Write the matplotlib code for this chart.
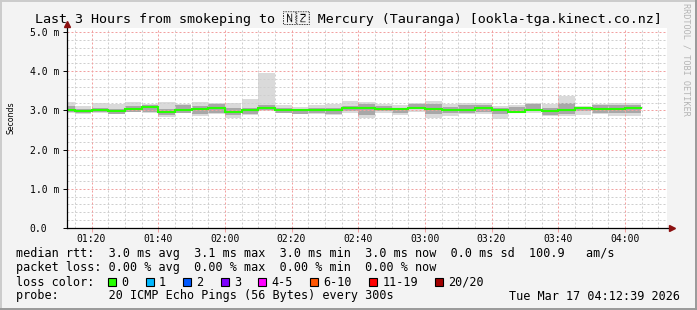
import numpy as np
import matplotlib.pyplot as plt
from matplotlib import font_manager, ft2font
from matplotlib.patches import Rectangle
from matplotlib.lines import Line2D

# smokeping graph, last 3 hours, 5 minute bins (first bin is partial)
t_start = 72 + 39 / 60.0     # 01:12:39 in minutes
t_end = t_start + 180.0      # 04:12:39
bin_edges = [t_start] + list(range(75, 250, 5))

median = [3.00, 2.98, 3.01, 2.99, 3.03, 3.08, 2.97, 3.01, 3.03, 3.06, 2.96, 3.00,
          3.07, 3.02, 3.00, 3.00, 3.02, 3.05, 3.05, 3.04, 3.04, 3.07, 3.04, 3.00,
          3.00, 3.05, 3.02, 2.97, 3.02, 2.98, 3.02, 3.05, 3.03, 3.03, 3.05]
smoke_hi = [3.22, 3.11, 3.20, 3.17, 3.21, 3.15, 3.21, 3.17, 3.21, 3.20, 3.20, 3.28,
            3.94, 3.13, 3.09, 3.13, 3.17, 3.24, 3.21, 3.15, 3.13, 3.20, 3.24, 3.15,
            3.20, 3.20, 3.11, 3.14, 3.20, 3.15, 3.36, 3.11, 3.15, 3.18, 3.20]
smoke_lo = [2.94, 2.91, 2.92, 2.91, 2.96, 2.94, 2.84, 2.92, 2.86, 2.90, 2.81, 2.87,
            2.98, 2.92, 2.90, 2.90, 2.87, 2.94, 2.81, 2.92, 2.87, 2.96, 2.81, 2.85,
            2.90, 2.90, 2.79, 2.92, 2.92, 2.85, 2.85, 2.87, 2.90, 2.85, 2.85]
core_hi = [3.11, 3.03, 3.07, 3.04, 3.11, 3.14, 3.03, 3.13, 3.11, 3.17, 3.07, 3.07,
           3.13, 3.07, 3.04, 3.07, 3.07, 3.11, 3.17, 3.11, 3.07, 3.15, 3.15, 3.09,
           3.13, 3.13, 3.07, 3.09, 3.15, 3.07, 3.18, 3.09, 3.13, 3.13, 3.13]
core_lo = [2.96, 2.94, 2.96, 2.91, 2.97, 2.96, 2.87, 2.94, 2.90, 2.94, 2.87, 2.90,
           3.01, 2.94, 2.91, 2.92, 2.90, 2.98, 2.87, 2.98, 2.94, 3.04, 2.90, 2.92,
           2.94, 2.96, 2.90, 2.94, 2.98, 2.87, 2.90, 2.98, 2.94, 2.92, 2.92]

x_ticks = [80, 100, 120, 140, 160, 180, 200, 220, 240]
x_labels = ['01:20', '01:40', '02:00', '02:20', '02:40', '03:00', '03:20', '03:40', '04:00']
y_ticks = [0, 1, 2, 3, 4, 5]
y_labels = ['0.0', '1.0 m', '2.0 m', '3.0 m', '4.0 m', '5.0 m']

loss_labels = ['0', '1', '2', '3', '4-5', '6-10', '11-19', '20/20']
loss_colors = ['#26ff00', '#00b8ff', '#0059ff', '#7e00ff', '#ff00ff', '#ff5500', '#ff0000', '#a10000']

title_left = 'Last 3 Hours from smokeping to '
title_flag = '\U0001F1F3\U0001F1FF'
title_right = ' Mercury (Tauranga) [ookla-tga.kinect.co.nz]'
legend_rows = [
    'median rtt:  3.0 ms avg  3.1 ms max  3.0 ms min  3.0 ms now  0.0 ms sd  100.9   am/s',
    'packet loss: 0.00 % avg  0.00 % max  0.00 % min  0.00 % now',
    'loss color:',
    'probe:       20 ICMP Echo Pings (56 Bytes) every 300s',
]
stamp = 'Tue Mar 17 04:12:39 2026'

mono = 'DejaVu Sans Mono'
W, H = 697, 310


def font_with(cp):
    # first installed family that has a glyph for cp, if any
    for f in font_manager.fontManager.ttflist:
        try:
            if cp in ft2font.FT2Font(f.fname).get_charmap():
                return f.name
        except Exception:
            pass
    return None


fig = plt.figure(figsize=(W / 100, H / 100), dpi=100, facecolor='#f3f3f3')

def fx(px):
    return px / W

def fy(py):
    return 1 - py / H

ax = fig.add_axes([fx(67), fy(228), 600 / W, 200 / H])
ax.set_facecolor('white')
ax.set_xlim(t_start, t_end)
ax.set_ylim(0, 5.1)
for s in ax.spines.values():
    s.set_visible(False)

edges = np.array(bin_edges, dtype=float)
lefts = edges[:-1]
widths = np.diff(edges)
lo = np.array(smoke_lo)
hi = np.array(smoke_hi)
clo = np.array(core_lo)
chi = np.array(core_hi)

# smoke
ax.bar(lefts, hi - lo, widths, bottom=lo, align='edge', color='#dadada', lw=0, zorder=1)
ax.bar(lefts, chi - clo, widths, bottom=clo, align='edge', color='#a8a8a8', lw=0, zorder=1.1)

# grid (drawn over the smoke like rrdtool)
dash = (0, (2, 2))
for v in np.arange(0, 5.1, 0.2):
    if abs(v - round(v)) > 1e-6:
        ax.axhline(v, color='#cfcfcf', lw=0.72, ls=dash, zorder=2)
for v in range(0, 6):
    ax.axhline(v, color='#f2a0a0', lw=0.72, ls=dash, zorder=2.1)
for m in range(75, 255, 5):
    if m % 20 != 0:
        ax.axvline(m, color='#cfcfcf', lw=0.72, ls=dash, zorder=2)
for m in x_ticks:
    ax.axvline(m, color='#f2a0a0', lw=0.72, ls=dash, zorder=2.1)

# median line, coloured by loss (all 0 here)
ax.stairs(median, edges, baseline=None, color=loss_colors[0], lw=1.5, zorder=3)

# axes with arrows
ax.plot([0, 1.009], [0, 0], color='black', lw=0.9, transform=ax.transAxes, clip_on=False, zorder=4)
ax.plot([0, 0], [0, 1.02], color='black', lw=0.9, transform=ax.transAxes, clip_on=False, zorder=4)
ax.plot([1.009], [0], marker='>', ms=4, color='#8b1010', transform=ax.transAxes, clip_on=False, zorder=5)
ax.plot([0], [1.02], marker='^', ms=4, color='#8b1010', transform=ax.transAxes, clip_on=False, zorder=5)

ax.set_xticks(x_ticks)
ax.set_xticklabels(x_labels, fontfamily=mono, fontsize=7)
ax.tick_params(axis='x', length=3, width=0.7, color='#f2a0a0', pad=1.5)
ax.set_yticks(y_ticks)
ax.set_yticklabels(y_labels, fontfamily=mono, fontsize=7, ha='left')
ax.tick_params(axis='y', length=3, width=0.7, color='black', pad=24)

fig.text(fx(11), fy(118), 'Seconds', rotation=90, ha='center', va='center', fontsize=5.6,
         family='DejaVu Sans')

# title: flag letters only if some installed font has them, else tofu boxes like the reference
flag_font = font_with(ord(title_flag[0]))
if flag_font:
    fig.text(fx(348), fy(19), title_left + title_flag + title_right, ha='center', va='center',
             fontsize=9.6, family=[mono, flag_font])
else:
    fig.text(fx(28), fy(19), title_left, ha='left', va='center', fontsize=9.6, family=mono)
    for bxl in (277, 299):
        fig.add_artist(Rectangle((fx(bxl), fy(25)), 17 / W, 11 / H, facecolor='none',
                                 edgecolor='black', lw=0.8, transform=fig.transFigure))
    fig.text(fx(316), fy(19), title_right, ha='left', va='center', fontsize=9.6, family=mono)

fig.text(fx(686), fy(59), 'RRDTOOL / TOBI OETIKER', rotation=-90, ha='center', va='center',
         fontsize=6.1, family=mono, color='#b4b4b4')

# legend block
row_y = [254, 268, 282, 296]
for txt, ry in zip(legend_rows, row_y):
    fig.text(fx(16), fy(ry), txt, ha='left', va='center', fontsize=8.5, family=mono)
fig.text(fx(680), fy(296), stamp, ha='right', va='center', fontsize=8.5, family=mono)

bx = 108.0
for lab, col in zip(loss_labels, loss_colors):
    fig.add_artist(Rectangle((fx(bx), fy(286)), 8 / W, 8 / H, facecolor=col,
                             edgecolor='black', lw=0.8, transform=fig.transFigure))
    fig.text(fx(bx + 13), fy(282), lab, ha='left', va='center', fontsize=8.5, family=mono)
    bx += 30.5 + 7.12 * len(lab)

# 3d frame around the image
fig.add_artist(Line2D([0, 1], [fy(0.5), fy(0.5)], color='#cbcbcb', lw=1.4, transform=fig.transFigure))
fig.add_artist(Line2D([fx(0.5), fx(0.5)], [0, 1], color='#cbcbcb', lw=1.4, transform=fig.transFigure))
fig.add_artist(Line2D([0, 1], [fy(309), fy(309)], color='#999999', lw=1.4, transform=fig.transFigure))
fig.add_artist(Line2D([fx(696), fx(696)], [0, 1], color='#999999', lw=1.4, transform=fig.transFigure))

fig.savefig('out.png', dpi=100, facecolor=fig.get_facecolor())
